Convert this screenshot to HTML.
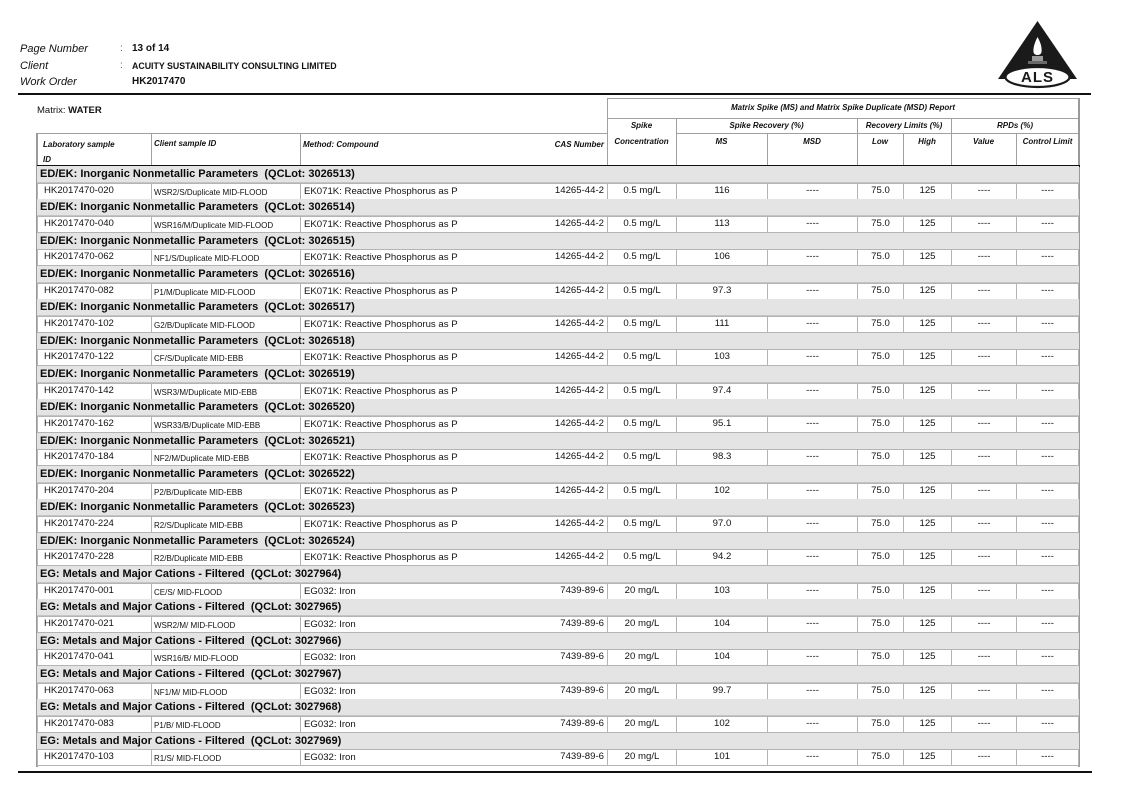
<!DOCTYPE html>
<html><head><meta charset="utf-8">
<style>
*{margin:0;padding:0;box-sizing:border-box}
html,body{width:1122px;height:794px;background:#fff;overflow:hidden}
body{position:relative;font-family:"Liberation Sans",Arial,sans-serif;color:#111}
.t{position:absolute;white-space:nowrap}
.hl{position:absolute;background:#a0a0a0;height:1px}
.vl{position:absolute;background:#a0a0a0;width:1px}
.hd{position:absolute;white-space:nowrap;font-style:italic;font-weight:bold;font-size:8px;line-height:10px;color:#111}
.g{position:absolute;left:37px;width:1042px;height:34px}
.gh{position:absolute;left:0;top:0;width:1042px;height:17px;background:#e4e4e4;border-bottom:1px solid #c4c4c4;font-weight:bold;font-size:11px;line-height:17px;padding-left:3px;white-space:nowrap;color:#0a0a0a}
.c{position:absolute;top:16.5px;height:17px;border:1px solid #b4b4b4;background:#fff;font-size:9.6px;line-height:14px;text-align:center;white-space:nowrap}
.a{left:0;width:115px;text-align:left;padding-left:6px;line-height:13px}
.b{left:114px;width:150px;text-align:left;padding-left:2px;font-size:8px;line-height:17px}
.m{left:263px;width:308px;text-align:left;padding-left:3px;line-height:16px}
.m span{position:absolute;right:3px;top:0;line-height:13px}
.s{left:570px;width:70px}
.ms{left:639px;width:92px}
.md{left:730px;width:91px}
.lo{left:820px;width:47px}
.hi{left:866px;width:49px}
.v{left:914px;width:66px}
.cl{left:979px;width:63px}
</style></head><body>

<!-- page header -->
<div class="t" style="left:20px;top:42px;font-size:11px;font-style:italic;line-height:14px">Page Number</div>
<div class="t" style="left:20px;top:59px;font-size:11px;font-style:italic;line-height:14px">Client</div>
<div class="t" style="left:20px;top:75px;font-size:11px;font-style:italic;line-height:14px">Work Order</div>
<div class="t" style="left:120px;top:42px;font-size:10px;line-height:14px;color:#555">:</div>
<div class="t" style="left:120px;top:59px;font-size:10px;line-height:14px;color:#555">:</div>
<div class="t" style="left:132px;top:42px;font-size:10px;font-weight:bold;line-height:14px">13 of 14</div>
<div class="t" style="left:132px;top:60px;font-size:8.8px;font-weight:bold;line-height:13px">ACUITY SUSTAINABILITY CONSULTING LIMITED</div>
<div class="t" style="left:132px;top:75px;font-size:10px;font-weight:bold;line-height:14px">HK2017470</div>

<!-- logo -->
<svg style="position:absolute;left:995px;top:15px" width="85" height="80" viewBox="0 0 85 80">
<path d="M42.5,6 L3,64 L82,64 Z" fill="#1a1a1a"/>
<ellipse cx="42.5" cy="62" rx="32" ry="10" fill="#fff" stroke="#1a1a1a" stroke-width="2.2"/>
<path d="M42.5,22 C46,28 47,33 46.5,37 C46,41 39,41 38.5,37 C38,33 39.5,28 42.5,22 Z" fill="#fff"/>
<rect x="37" y="41" width="11" height="5" fill="#9a9a9a"/>
<rect x="33" y="46" width="19" height="3" fill="#6a6a6a"/>
<text x="42.5" y="67" text-anchor="middle" font-family="Liberation Sans,Arial,sans-serif" font-weight="bold" font-size="15" letter-spacing="1" fill="#1a1a1a">ALS</text>
</svg>

<!-- header lines -->
<div style="position:absolute;left:18px;top:93px;width:1073px;height:2px;background:#111"></div>
<div style="position:absolute;left:18px;top:771px;width:1074px;height:2px;background:#111"></div>

<div class="t" style="left:37px;top:105px;font-size:9.5px;line-height:12px">Matrix: <b>WATER</b></div>

<!-- table header lines -->
<div class="hl" style="left:607px;top:98px;width:473px"></div>
<div class="hl" style="left:607px;top:118px;width:473px"></div>
<div class="hl" style="left:37px;top:133px;width:570px"></div>
<div class="hl" style="left:676px;top:133px;width:404px"></div>
<div class="vl" style="left:36px;top:133px;height:634px;width:2px;background:#9a9a9a"></div>
<div class="vl" style="left:151px;top:133px;height:33px"></div>
<div class="vl" style="left:300px;top:133px;height:33px"></div>
<div class="vl" style="left:607px;top:98px;height:68px"></div>
<div class="vl" style="left:676px;top:118px;height:48px"></div>
<div class="vl" style="left:767px;top:133px;height:33px"></div>
<div class="vl" style="left:857px;top:118px;height:48px"></div>
<div class="vl" style="left:903px;top:133px;height:33px"></div>
<div class="vl" style="left:951px;top:118px;height:48px"></div>
<div class="vl" style="left:1016px;top:133px;height:33px"></div>
<div class="vl" style="left:1078px;top:98px;height:669px;width:2px;background:#9a9a9a"></div>
<div style="position:absolute;left:37px;top:165px;width:1043px;height:2px;background:#111"></div>

<!-- header text -->
<div class="hd" style="left:607px;width:472px;top:103px;text-align:center">Matrix Spike (MS) and Matrix Spike Duplicate (MSD) Report</div>
<div class="hd" style="left:607px;width:69px;top:121px;text-align:center">Spike</div>
<div class="hd" style="left:607px;width:69px;top:137px;text-align:center">Concentration</div>
<div class="hd" style="left:676px;width:181px;top:121px;text-align:center">Spike Recovery (%)</div>
<div class="hd" style="left:857px;width:94px;top:121px;text-align:center">Recovery Limits (%)</div>
<div class="hd" style="left:951px;width:128px;top:121px;text-align:center">RPDs (%)</div>
<div class="hd" style="left:676px;width:91px;top:137px;text-align:center">MS</div>
<div class="hd" style="left:767px;width:90px;top:137px;text-align:center">MSD</div>
<div class="hd" style="left:857px;width:46px;top:137px;text-align:center">Low</div>
<div class="hd" style="left:903px;width:48px;top:137px;text-align:center">High</div>
<div class="hd" style="left:951px;width:65px;top:137px;text-align:center">Value</div>
<div class="hd" style="left:1016px;width:63px;top:137px;text-align:center">Control Limit</div>
<div class="hd" style="left:500px;width:104px;top:140px;text-align:right">CAS Number</div>
<div class="hd" style="left:43px;top:140px">Laboratory sample</div>
<div class="hd" style="left:43px;top:155px">ID</div>
<div class="hd" style="left:154px;top:139px">Client sample ID</div>
<div class="hd" style="left:303px;top:140px">Method: Compound</div>

<!-- groups -->
<div class="g" style="top:166px"><div class="gh">ED/EK: Inorganic Nonmetallic Parameters&nbsp; (QCLot: 3026513)</div>
<div class="c a">HK2017470-020</div><div class="c b">WSR2/S/Duplicate MID-FLOOD</div><div class="c m">EK071K: Reactive Phosphorus as P<span>14265-44-2</span></div><div class="c s">0.5 mg/L</div><div class="c ms">116</div><div class="c md">----</div><div class="c lo">75.0</div><div class="c hi">125</div><div class="c v">----</div><div class="c cl">----</div></div>

<div class="g" style="top:199.33px"><div class="gh">ED/EK: Inorganic Nonmetallic Parameters&nbsp; (QCLot: 3026514)</div>
<div class="c a">HK2017470-040</div><div class="c b">WSR16/M/Duplicate MID-FLOOD</div><div class="c m">EK071K: Reactive Phosphorus as P<span>14265-44-2</span></div><div class="c s">0.5 mg/L</div><div class="c ms">113</div><div class="c md">----</div><div class="c lo">75.0</div><div class="c hi">125</div><div class="c v">----</div><div class="c cl">----</div></div>

<div class="g" style="top:232.67px"><div class="gh">ED/EK: Inorganic Nonmetallic Parameters&nbsp; (QCLot: 3026515)</div>
<div class="c a">HK2017470-062</div><div class="c b">NF1/S/Duplicate MID-FLOOD</div><div class="c m">EK071K: Reactive Phosphorus as P<span>14265-44-2</span></div><div class="c s">0.5 mg/L</div><div class="c ms">106</div><div class="c md">----</div><div class="c lo">75.0</div><div class="c hi">125</div><div class="c v">----</div><div class="c cl">----</div></div>

<div class="g" style="top:266px"><div class="gh">ED/EK: Inorganic Nonmetallic Parameters&nbsp; (QCLot: 3026516)</div>
<div class="c a">HK2017470-082</div><div class="c b">P1/M/Duplicate MID-FLOOD</div><div class="c m">EK071K: Reactive Phosphorus as P<span>14265-44-2</span></div><div class="c s">0.5 mg/L</div><div class="c ms">97.3</div><div class="c md">----</div><div class="c lo">75.0</div><div class="c hi">125</div><div class="c v">----</div><div class="c cl">----</div></div>

<div class="g" style="top:299.33px"><div class="gh">ED/EK: Inorganic Nonmetallic Parameters&nbsp; (QCLot: 3026517)</div>
<div class="c a">HK2017470-102</div><div class="c b">G2/B/Duplicate MID-FLOOD</div><div class="c m">EK071K: Reactive Phosphorus as P<span>14265-44-2</span></div><div class="c s">0.5 mg/L</div><div class="c ms">111</div><div class="c md">----</div><div class="c lo">75.0</div><div class="c hi">125</div><div class="c v">----</div><div class="c cl">----</div></div>

<div class="g" style="top:332.67px"><div class="gh">ED/EK: Inorganic Nonmetallic Parameters&nbsp; (QCLot: 3026518)</div>
<div class="c a">HK2017470-122</div><div class="c b">CF/S/Duplicate MID-EBB</div><div class="c m">EK071K: Reactive Phosphorus as P<span>14265-44-2</span></div><div class="c s">0.5 mg/L</div><div class="c ms">103</div><div class="c md">----</div><div class="c lo">75.0</div><div class="c hi">125</div><div class="c v">----</div><div class="c cl">----</div></div>

<div class="g" style="top:366px"><div class="gh">ED/EK: Inorganic Nonmetallic Parameters&nbsp; (QCLot: 3026519)</div>
<div class="c a">HK2017470-142</div><div class="c b">WSR3/M/Duplicate MID-EBB</div><div class="c m">EK071K: Reactive Phosphorus as P<span>14265-44-2</span></div><div class="c s">0.5 mg/L</div><div class="c ms">97.4</div><div class="c md">----</div><div class="c lo">75.0</div><div class="c hi">125</div><div class="c v">----</div><div class="c cl">----</div></div>

<div class="g" style="top:399.33px"><div class="gh">ED/EK: Inorganic Nonmetallic Parameters&nbsp; (QCLot: 3026520)</div>
<div class="c a">HK2017470-162</div><div class="c b">WSR33/B/Duplicate MID-EBB</div><div class="c m">EK071K: Reactive Phosphorus as P<span>14265-44-2</span></div><div class="c s">0.5 mg/L</div><div class="c ms">95.1</div><div class="c md">----</div><div class="c lo">75.0</div><div class="c hi">125</div><div class="c v">----</div><div class="c cl">----</div></div>

<div class="g" style="top:432.67px"><div class="gh">ED/EK: Inorganic Nonmetallic Parameters&nbsp; (QCLot: 3026521)</div>
<div class="c a">HK2017470-184</div><div class="c b">NF2/M/Duplicate MID-EBB</div><div class="c m">EK071K: Reactive Phosphorus as P<span>14265-44-2</span></div><div class="c s">0.5 mg/L</div><div class="c ms">98.3</div><div class="c md">----</div><div class="c lo">75.0</div><div class="c hi">125</div><div class="c v">----</div><div class="c cl">----</div></div>

<div class="g" style="top:466px"><div class="gh">ED/EK: Inorganic Nonmetallic Parameters&nbsp; (QCLot: 3026522)</div>
<div class="c a">HK2017470-204</div><div class="c b">P2/B/Duplicate MID-EBB</div><div class="c m">EK071K: Reactive Phosphorus as P<span>14265-44-2</span></div><div class="c s">0.5 mg/L</div><div class="c ms">102</div><div class="c md">----</div><div class="c lo">75.0</div><div class="c hi">125</div><div class="c v">----</div><div class="c cl">----</div></div>

<div class="g" style="top:499.33px"><div class="gh">ED/EK: Inorganic Nonmetallic Parameters&nbsp; (QCLot: 3026523)</div>
<div class="c a">HK2017470-224</div><div class="c b">R2/S/Duplicate MID-EBB</div><div class="c m">EK071K: Reactive Phosphorus as P<span>14265-44-2</span></div><div class="c s">0.5 mg/L</div><div class="c ms">97.0</div><div class="c md">----</div><div class="c lo">75.0</div><div class="c hi">125</div><div class="c v">----</div><div class="c cl">----</div></div>

<div class="g" style="top:532.67px"><div class="gh">ED/EK: Inorganic Nonmetallic Parameters&nbsp; (QCLot: 3026524)</div>
<div class="c a">HK2017470-228</div><div class="c b">R2/B/Duplicate MID-EBB</div><div class="c m">EK071K: Reactive Phosphorus as P<span>14265-44-2</span></div><div class="c s">0.5 mg/L</div><div class="c ms">94.2</div><div class="c md">----</div><div class="c lo">75.0</div><div class="c hi">125</div><div class="c v">----</div><div class="c cl">----</div></div>

<div class="g" style="top:566px"><div class="gh">EG: Metals and Major Cations - Filtered&nbsp; (QCLot: 3027964)</div>
<div class="c a">HK2017470-001</div><div class="c b">CE/S/ MID-FLOOD</div><div class="c m">EG032: Iron<span>7439-89-6</span></div><div class="c s">20 mg/L</div><div class="c ms">103</div><div class="c md">----</div><div class="c lo">75.0</div><div class="c hi">125</div><div class="c v">----</div><div class="c cl">----</div></div>

<div class="g" style="top:599.33px"><div class="gh">EG: Metals and Major Cations - Filtered&nbsp; (QCLot: 3027965)</div>
<div class="c a">HK2017470-021</div><div class="c b">WSR2/M/ MID-FLOOD</div><div class="c m">EG032: Iron<span>7439-89-6</span></div><div class="c s">20 mg/L</div><div class="c ms">104</div><div class="c md">----</div><div class="c lo">75.0</div><div class="c hi">125</div><div class="c v">----</div><div class="c cl">----</div></div>

<div class="g" style="top:632.67px"><div class="gh">EG: Metals and Major Cations - Filtered&nbsp; (QCLot: 3027966)</div>
<div class="c a">HK2017470-041</div><div class="c b">WSR16/B/ MID-FLOOD</div><div class="c m">EG032: Iron<span>7439-89-6</span></div><div class="c s">20 mg/L</div><div class="c ms">104</div><div class="c md">----</div><div class="c lo">75.0</div><div class="c hi">125</div><div class="c v">----</div><div class="c cl">----</div></div>

<div class="g" style="top:666px"><div class="gh">EG: Metals and Major Cations - Filtered&nbsp; (QCLot: 3027967)</div>
<div class="c a">HK2017470-063</div><div class="c b">NF1/M/ MID-FLOOD</div><div class="c m">EG032: Iron<span>7439-89-6</span></div><div class="c s">20 mg/L</div><div class="c ms">99.7</div><div class="c md">----</div><div class="c lo">75.0</div><div class="c hi">125</div><div class="c v">----</div><div class="c cl">----</div></div>

<div class="g" style="top:699.33px"><div class="gh">EG: Metals and Major Cations - Filtered&nbsp; (QCLot: 3027968)</div>
<div class="c a">HK2017470-083</div><div class="c b">P1/B/ MID-FLOOD</div><div class="c m">EG032: Iron<span>7439-89-6</span></div><div class="c s">20 mg/L</div><div class="c ms">102</div><div class="c md">----</div><div class="c lo">75.0</div><div class="c hi">125</div><div class="c v">----</div><div class="c cl">----</div></div>

<div class="g" style="top:732.67px"><div class="gh">EG: Metals and Major Cations - Filtered&nbsp; (QCLot: 3027969)</div>
<div class="c a">HK2017470-103</div><div class="c b">R1/S/ MID-FLOOD</div><div class="c m">EG032: Iron<span>7439-89-6</span></div><div class="c s">20 mg/L</div><div class="c ms">101</div><div class="c md">----</div><div class="c lo">75.0</div><div class="c hi">125</div><div class="c v">----</div><div class="c cl">----</div></div>

</body></html>
